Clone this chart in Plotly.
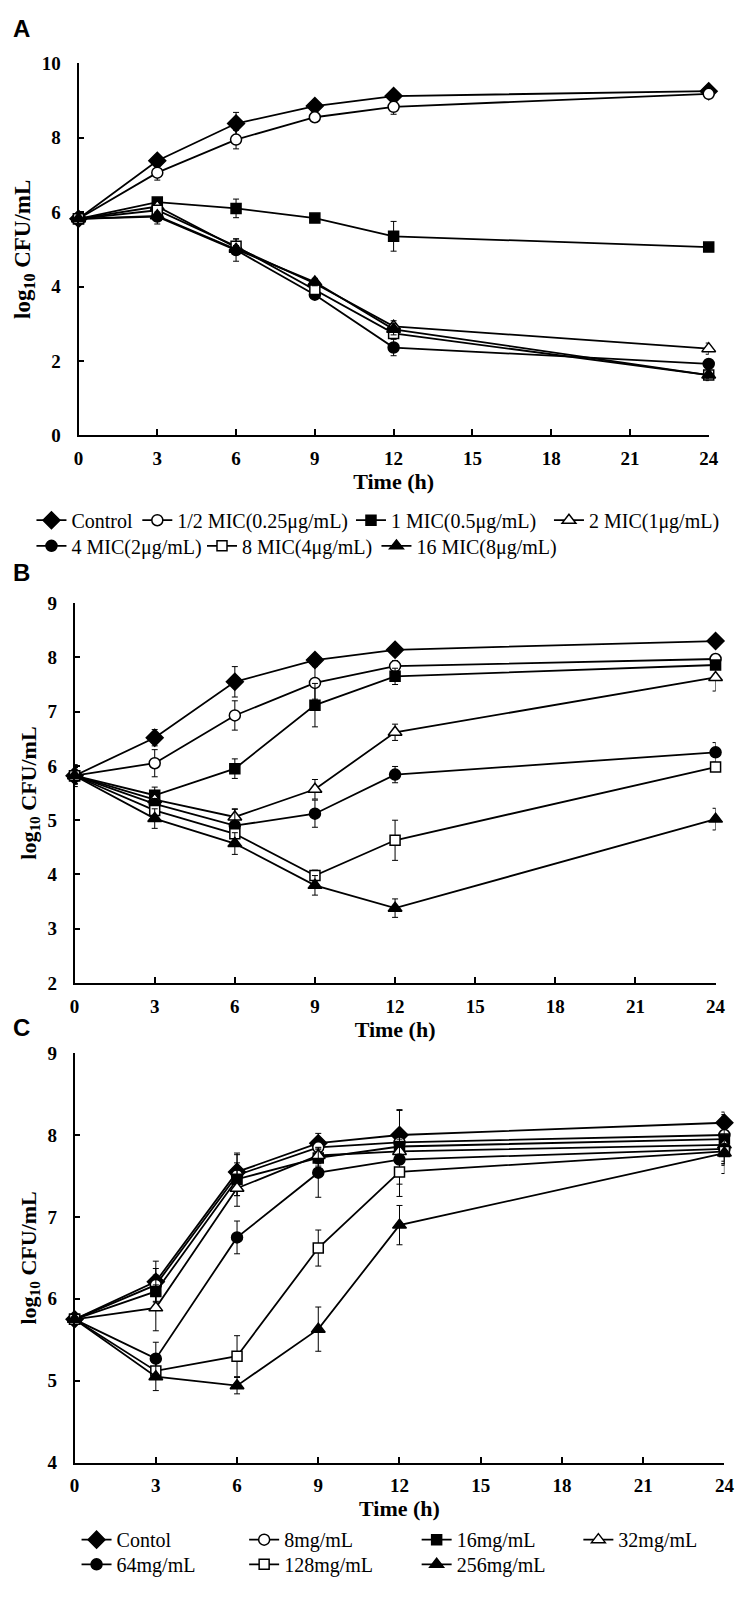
import plotly.graph_objects as go

W, H = 754, 1598

time = [0, 3, 6, 9, 12, 24]
x_ticks = [0, 3, 6, 9, 12, 15, 18, 21, 24]

# ---- Panel A ----
A_names = ["Control", "1/2 MIC(0.25μg/mL)", "1 MIC(0.5μg/mL)", "2 MIC(1μg/mL)",
           "4 MIC(2μg/mL)", "8 MIC(4μg/mL)", "16 MIC(8μg/mL)"]
A_control = [5.82, 7.38, 8.38, 8.85, 9.12, 9.25]
A_half = [5.82, 7.06, 7.95, 8.55, 8.83, 9.18]
A_1mic = [5.82, 6.27, 6.10, 5.84, 5.35, 5.06]
A_2mic = [5.82, 6.15, 5.05, 4.08, 2.93, 2.33]
A_4mic = [5.82, 5.88, 4.98, 3.78, 2.36, 1.92]
A_8mic = [5.82, 6.05, 5.08, 3.92, 2.74, 1.62]
A_16mic = [5.82, 5.90, 5.00, 4.12, 2.85, 1.62]
A_err_control = [0.05, 0.10, 0.30, 0.12, 0.12, 0.10]
A_err_half = [0.05, 0.20, 0.25, 0.12, 0.20, 0.08]
A_err_1mic = [0.05, 0.10, 0.25, 0.08, 0.40, 0.08]
A_err_2mic = [0.05, 0.10, 0.12, 0.12, 0.15, 0.15]
A_err_4mic = [0.05, 0.20, 0.30, 0.12, 0.22, 0.10]
A_err_8mic = [0.05, 0.10, 0.20, 0.10, 0.10, 0.15]
A_err_16mic = [0.05, 0.10, 0.10, 0.10, 0.15, 0.10]

# ---- Panel B ----
B_control = [5.82, 6.52, 7.55, 7.95, 8.14, 8.30]
B_half = [5.82, 6.05, 6.93, 7.53, 7.84, 7.97]
B_1mic = [5.82, 5.46, 5.95, 7.12, 7.65, 7.86]
B_2mic = [5.82, 5.38, 5.06, 5.57, 6.62, 7.63]
B_4mic = [5.82, 5.30, 4.90, 5.12, 5.84, 6.25]
B_8mic = [5.82, 5.18, 4.75, 3.98, 4.63, 5.98]
B_16mic = [5.82, 5.03, 4.57, 3.80, 3.38, 5.02]
B_err_control = [0.20, 0.15, 0.28, 0.10, 0.08, 0.08]
B_err_half = [0.20, 0.25, 0.27, 0.30, 0.10, 0.08]
B_err_1mic = [0.15, 0.15, 0.18, 0.40, 0.15, 0.08]
B_err_2mic = [0.15, 0.10, 0.15, 0.18, 0.15, 0.25]
B_err_4mic = [0.15, 0.10, 0.30, 0.25, 0.15, 0.18]
B_err_8mic = [0.15, 0.10, 0.12, 0.10, 0.37, 0.08]
B_err_16mic = [0.15, 0.18, 0.20, 0.18, 0.17, 0.20]

# ---- Panel C ----
C_names = ["Contol", "8mg/mL", "16mg/mL", "32mg/mL", "64mg/mL", "128mg/mL", "256mg/mL"]
C_control = [5.75, 6.21, 7.55, 7.90, 8.00, 8.15]
C_8 = [5.75, 6.17, 7.51, 7.85, 7.91, 8.00]
C_16 = [5.75, 6.09, 7.46, 7.72, 7.86, 7.95]
C_32 = [5.75, 5.89, 7.35, 7.75, 7.80, 7.88]
C_64 = [5.75, 5.27, 6.75, 7.54, 7.70, 7.83]
C_128 = [5.75, 5.12, 5.30, 6.62, 7.55, 7.80]
C_256 = [5.75, 5.05, 4.94, 5.63, 6.90, 7.78]
C_err_control = [0.03, 0.25, 0.23, 0.12, 0.30, 0.13]
C_err_8 = [0.03, 0.20, 0.25, 0.10, 0.40, 0.10]
C_err_16 = [0.03, 0.20, 0.20, 0.10, 0.20, 0.30]
C_err_32 = [0.03, 0.28, 0.22, 0.10, 0.15, 0.35]
C_err_64 = [0.03, 0.20, 0.20, 0.30, 0.30, 0.15]
C_err_128 = [0.03, 0.10, 0.25, 0.22, 0.30, 0.15]
C_err_256 = [0.03, 0.17, 0.10, 0.27, 0.24, 0.15]

# marker styles: (symbol, filled, size)
styles = [("diamond", True, 13), ("circle", False, 11), ("square", True, 10),
          ("triangle-up", False, 12), ("circle", True, 11), ("square", False, 10),
          ("triangle-up", True, 12)]

A_series = [A_control, A_half, A_1mic, A_2mic, A_4mic, A_8mic, A_16mic]
A_errs = [A_err_control, A_err_half, A_err_1mic, A_err_2mic, A_err_4mic, A_err_8mic, A_err_16mic]
B_series = [B_control, B_half, B_1mic, B_2mic, B_4mic, B_8mic, B_16mic]
B_errs = [B_err_control, B_err_half, B_err_1mic, B_err_2mic, B_err_4mic, B_err_8mic, B_err_16mic]
C_series = [C_control, C_8, C_16, C_32, C_64, C_128, C_256]
C_errs = [C_err_control, C_err_8, C_err_16, C_err_32, C_err_64, C_err_128, C_err_256]

fig = go.Figure()


def add_panel(series, errs, names, xa, ya, legend_ids):
    for i, (ys, es) in enumerate(zip(series, errs)):
        sym, filled, size = styles[i]
        kw = {}
        if legend_ids:
            kw["legend"] = legend_ids[i]
        fig.add_trace(go.Scatter(
            x=time, y=ys, mode="lines+markers",
            name=names[i] if names else A_names[i],
            showlegend=bool(legend_ids),
            xaxis=xa, yaxis=ya, cliponaxis=False,
            line=dict(color="black", width=1.8),
            marker=dict(symbol=sym, size=size,
                        color="black" if filled else "white",
                        line=dict(color="black", width=1.5)),
            error_y=dict(type="data", array=es, visible=True,
                         color="black", thickness=1, width=3),
            **kw,
        ))


A_leg_ids = ["legend", "legend2", "legend3", "legend4", "legend5", "legend6", "legend7"]
C_leg_ids = ["legend8", "legend9", "legend10", "legend11", "legend12", "legend13", "legend14"]

add_panel(A_series, A_errs, A_names, "x", "y", A_leg_ids)
add_panel(B_series, B_errs, None, "x2", "y2", None)
add_panel(C_series, C_errs, C_names, "x3", "y3", C_leg_ids)

tickfont = dict(family="Liberation Serif", size=19, color="black", weight="bold")
titlefont = dict(family="Liberation Serif", size=22, color="black")


def px_x(p):
    return p / W


def px_y(p):
    return 1 - p / H


def xaxis(dom, anchor, standoff):
    return dict(domain=[px_x(dom[0]), px_x(dom[1])], anchor=anchor, range=[0, 24],
                tickvals=x_ticks, ticks="inside", ticklen=6, tickwidth=1.5,
                tickcolor="black", showline=True, linecolor="black", linewidth=1.8,
                showgrid=False, zeroline=False, tickfont=tickfont,
                ticklabelstandoff=5,
                title=dict(text="<b>Time (h)</b>", font=titlefont, standoff=standoff))


def yaxis(dom, anchor, rng, dtick, tsize=22):
    return dict(domain=[px_y(dom[1]), px_y(dom[0])], anchor=anchor, range=rng, dtick=dtick,
                ticks="inside", ticklen=6, tickwidth=1.5, tickcolor="black",
                showline=True, linecolor="black", linewidth=1.8,
                showgrid=False, zeroline=False, tickfont=tickfont,
                ticklabelstandoff=12,
                title=dict(text="<b>log<sub>10</sub> CFU/mL</b>",
                           font=dict(family="Liberation Serif", size=tsize, color="black"),
                           standoff=5))


legfont = dict(family="Liberation Serif", size=20, color="black")


def leg(text_x, yp):
    return dict(x=px_x(text_x - 45), y=px_y(yp), xanchor="left", yanchor="middle",
                orientation="h", font=legfont, bgcolor="rgba(0,0,0,0)",
                itemwidth=30)


A_text_x = [72, 180, 398, 600, 72, 246, 424]
A_text_y = [517, 517, 517, 517, 543, 543, 543]
C_text_x = [118, 289, 465, 630, 118, 289, 465]
C_text_y = [1550, 1550, 1550, 1550, 1575, 1575, 1575]

legends = {}
for lid, tx, ty in zip(A_leg_ids, A_text_x, A_text_y):
    legends[lid] = leg(tx, ty)
for lid, tx, ty in zip(C_leg_ids, C_text_x, C_text_y):
    legends[lid] = leg(tx, ty)

fig.update_layout(
    width=W, height=H, autosize=False,
    margin=dict(l=0, r=0, t=0, b=0),
    paper_bgcolor="white", plot_bgcolor="white",
    showlegend=True,
    xaxis=xaxis((75, 718), "y", 4),
    yaxis=yaxis((54, 431), "x", [0, 10], 2, tsize=23),
    xaxis2=xaxis((71, 725), "y2", 0),
    yaxis2=yaxis((601, 986), "x2", [2, 9], 1, tsize=22),
    xaxis3=xaxis((71, 734), "y3", 2),
    yaxis3=yaxis((1057, 1472), "x3", [4, 9], 1, tsize=22),
    **legends,
)

for label, yp in (("A", 19), ("B", 570), ("C", 1031)):
    fig.add_annotation(text="<b>" + label + "</b>", x=px_x(6), y=px_y(yp),
                       xref="paper", yref="paper", xanchor="left", yanchor="middle",
                       showarrow=False,
                       font=dict(family="Liberation Sans", size=24, color="black"))

fig.write_html("out.html", config={"displayModeBar": False},
               post_script="document.body.style.margin='0';")
